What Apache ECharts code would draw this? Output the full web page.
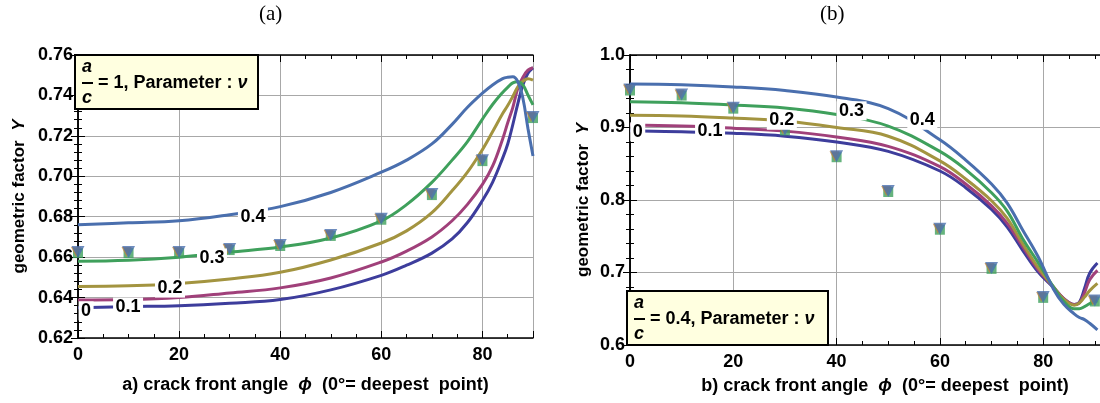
<!DOCTYPE html>
<html>
<head>
<meta charset="utf-8">
<script src="https://cdn.jsdelivr.net/npm/echarts@6/dist/echarts.min.js"></script>
<style>
  html, body { margin: 0; padding: 0; background: #fff; }
  #chart { width: 1100px; height: 403px; }
</style>
</head>
<body>
<div id="chart"></div>
<script>
// parameter nu for each curve
var nus = ['0', '0.1', '0.2', '0.3', '0.4'];

// (a) a/c = 1
var phiA = [0, 10, 20, 30, 40, 50, 60, 65, 70, 74, 77, 80, 82, 84, 85, 86, 87, 88, 89, 90];
var yA0 = [0.635, 0.6355, 0.636, 0.6372, 0.639, 0.6438, 0.651, 0.656, 0.662, 0.669, 0.677, 0.688, 0.697, 0.709, 0.716, 0.7255, 0.736, 0.7452, 0.751, 0.7537];
var yA1 = [0.6388, 0.639, 0.640, 0.6423, 0.6448, 0.6497, 0.6576, 0.663, 0.670, 0.678, 0.686, 0.696, 0.705, 0.7185, 0.7265, 0.734, 0.7435, 0.749, 0.7525, 0.7537];
var yA2 = [0.6455, 0.6458, 0.647, 0.6492, 0.6525, 0.6586, 0.667, 0.673, 0.682, 0.6928, 0.7019, 0.7132, 0.722, 0.731, 0.735, 0.7395, 0.7443, 0.747, 0.7483, 0.7476];
var yA3 = [0.658, 0.6585, 0.660, 0.6625, 0.665, 0.6695, 0.678, 0.686, 0.697, 0.708, 0.717, 0.7283, 0.7355, 0.7415, 0.744, 0.7462, 0.7468, 0.7452, 0.7402, 0.7353];
var yA4 = [0.676, 0.677, 0.678, 0.681, 0.685, 0.692, 0.702, 0.708, 0.716, 0.7257, 0.734, 0.7411, 0.7452, 0.7483, 0.749, 0.7492, 0.7468, 0.7386, 0.7237, 0.710];

// (b) a/c = 0.4
var phiB = [0, 10, 20, 30, 40, 50, 60, 65, 70, 73, 76, 79, 82, 84, 86, 87, 88, 89, 90.5];
var yB0 = [0.8956, 0.894, 0.892, 0.888, 0.880, 0.867, 0.840, 0.817, 0.787, 0.763, 0.731, 0.701, 0.679, 0.664, 0.656, 0.659, 0.678, 0.699, 0.713];
var yB1 = [0.9034, 0.902, 0.899, 0.895, 0.887, 0.874, 0.846, 0.822, 0.792, 0.768, 0.736, 0.704, 0.680, 0.664, 0.656, 0.658, 0.672, 0.690, 0.703];
var yB2 = [0.917, 0.916, 0.913, 0.909, 0.900, 0.888, 0.854, 0.829, 0.799, 0.775, 0.740, 0.707, 0.680, 0.663, 0.655, 0.658, 0.666, 0.675, 0.685];
var yB3 = [0.9356, 0.934, 0.931, 0.927, 0.918, 0.902, 0.867, 0.842, 0.810, 0.785, 0.747, 0.714, 0.680, 0.660, 0.650, 0.650, 0.653, 0.657, 0.661];
var yB4 = [0.960, 0.959, 0.956, 0.951, 0.942, 0.926, 0.883, 0.855, 0.822, 0.796, 0.759, 0.722, 0.677, 0.656, 0.643, 0.638, 0.635, 0.630, 0.621];

// FE results (markers)
var phiMarks = [0, 10, 20, 30, 40, 50, 60, 70, 80, 90];
var markA = [0.662, 0.662, 0.662, 0.6635, 0.6655, 0.6705, 0.6785, 0.6907, 0.7075, 0.7288];
var markB = [0.951, 0.944, 0.926, 0.896, 0.859, 0.811, 0.759, 0.705, 0.665, 0.660];

// where the nu labels sit on the curves
var labelPosA = [[1.6, 0.6334], [9.9, 0.6353], [18.2, 0.6447], [26.5, 0.6596], [34.6, 0.680]];
var labelPosB = [[1.5, 0.894], [15.5, 0.895], [29.4, 0.910], [42.9, 0.923], [56.6, 0.910]];

var colors = ['#3d3d9c', '#a0407a', '#a39440', '#3fa05c', '#4a6fae'];
var ff = 'Liberation Sans, Arial, sans-serif';

var myChart = echarts.init(document.getElementById('chart'));

function pairs(xs, ys) {
  return xs.map(function (x, i) { return [x, ys[i]]; });
}

function bottomAxis(gi, max, name, nameGap, namePad) {
  return {
    gridIndex: gi, type: 'value', position: 'bottom', min: 0, max: max, interval: 20,
    axisLine: { lineStyle: { color: '#000', width: 1.5 } },
    axisTick: { inside: true, length: 7, lineStyle: { color: '#000' } },
    minorTick: { show: true, splitNumber: 4, length: 4, lineStyle: { color: '#000' } },
    splitLine: { show: true, lineStyle: { color: '#a8a8a8', width: 1 } },
    axisLabel: { color: '#000', fontWeight: 'bold', fontSize: 18, fontFamily: ff, margin: 8, showMaxLabel: false },
    name: name, nameLocation: 'middle', nameGap: nameGap,
    nameTextStyle: {
      color: '#000', fontWeight: 'bold', fontSize: 18, fontFamily: ff, padding: namePad,
      rich: { i: { fontStyle: 'italic', fontWeight: 'bold', fontSize: 18, fontFamily: ff } }
    }
  };
}

function topAxis(gi, max) {
  return {
    gridIndex: gi, type: 'value', position: 'top', min: 0, max: max, interval: 20,
    axisLine: { lineStyle: { color: '#000', width: 1.5 } },
    axisTick: { inside: true, length: 7, lineStyle: { color: '#000' } },
    minorTick: { show: true, splitNumber: 4, length: 4, lineStyle: { color: '#000' } },
    splitLine: { show: false }, axisLabel: { show: false }
  };
}

function leftAxis(gi, min, max, step, digits, nameGap) {
  return {
    gridIndex: gi, type: 'value', position: 'left', min: min, max: max, interval: step,
    axisLine: { lineStyle: { color: '#000', width: 1.5 } },
    axisTick: { inside: true, length: 7, lineStyle: { color: '#000' } },
    minorTick: { show: true, splitNumber: 5, length: 4, lineStyle: { color: '#000' } },
    splitLine: { show: true, lineStyle: { color: '#a8a8a8', width: 1 } },
    axisLabel: {
      color: '#000', fontWeight: 'bold', fontSize: 18, fontFamily: ff, margin: 5,
      formatter: function (v) { return v.toFixed(digits); }
    },
    name: 'geometric factor  {i|Y}', nameLocation: 'middle', nameGap: nameGap,
    nameTextStyle: {
      color: '#000', fontWeight: 'bold', fontSize: 17, fontFamily: ff,
      rich: { i: { fontStyle: 'italic', fontWeight: 'bold', fontSize: 17, fontFamily: ff } }
    }
  };
}

function rightAxis(gi, min, max, step) {
  return {
    gridIndex: gi, type: 'value', position: 'right', min: min, max: max, interval: step,
    axisLine: { lineStyle: { color: '#000', width: 1.5 } },
    axisTick: { inside: true, length: 7, lineStyle: { color: '#000' } },
    minorTick: { show: true, splitNumber: 5, length: 4, lineStyle: { color: '#000' } },
    splitLine: { show: false }, axisLabel: { show: false }
  };
}

function curve(idx, xs, ys, nu, pos) {
  return {
    type: 'line', xAxisIndex: idx, yAxisIndex: idx,
    data: pairs(xs, ys), showSymbol: false, smooth: 0.4,
    lineStyle: { width: 3 }, color: colors[nus.indexOf(nu)], z: 2,
    markPoint: {
      silent: true, symbol: 'rect', symbolSize: [nu.length > 1 ? 30 : 15, 19],
      itemStyle: { color: '#fff' },
      label: { show: true, position: 'inside', formatter: nu, color: '#000', fontWeight: 'bold', fontSize: 18, fontFamily: ff },
      data: [{ coord: pos }]
    }
  };
}

function marks(idx, ys) {
  return [
    { type: 'scatter', xAxisIndex: idx, yAxisIndex: idx, data: pairs(phiMarks, ys), symbol: 'rect', symbolSize: 10, itemStyle: { color: '#3fa05c' }, z: 3, silent: true },
    { type: 'scatter', xAxisIndex: idx, yAxisIndex: idx, data: pairs(phiMarks, ys), symbol: 'triangle', symbolRotate: 180, symbolSize: [10, 10], symbolOffset: [-2, -1], itemStyle: { color: '#c0843a' }, z: 3, silent: true },
    { type: 'scatter', xAxisIndex: idx, yAxisIndex: idx, data: pairs(phiMarks, ys), symbol: 'triangle', symbolRotate: 180, symbolSize: [13, 12], symbolOffset: [0, -1], itemStyle: { color: '#4a6fae' }, z: 3, silent: true }
  ];
}

var seriesA = [yA0, yA1, yA2, yA3, yA4].map(function (ys, i) { return curve(0, phiA, ys, nus[i], labelPosA[i]); });
var seriesB = [yB0, yB1, yB2, yB3, yB4].map(function (ys, i) { return curve(1, phiB, ys, nus[i], labelPosB[i]); });

function legendBox(x, y, w, ratio) {
  var fx = x + 12, mid = y + 28;
  return [
    { type: 'rect', z: 20, shape: { x: x, y: y, width: w, height: 54 }, style: { fill: '#ffffe0', stroke: '#000', lineWidth: 2 } },
    { type: 'text', z: 21, x: fx, y: y + 12, style: { text: 'a', fontStyle: 'italic', fontWeight: 'bold', fontSize: 18, fontFamily: ff, fill: '#000', align: 'center', verticalAlign: 'middle' } },
    { type: 'line', z: 21, shape: { x1: fx - 5, y1: mid, x2: fx + 6, y2: mid }, style: { stroke: '#000', lineWidth: 2 } },
    { type: 'text', z: 21, x: fx, y: y + 43, style: { text: 'c', fontStyle: 'italic', fontWeight: 'bold', fontSize: 18, fontFamily: ff, fill: '#000', align: 'center', verticalAlign: 'middle' } },
    { type: 'text', z: 21, x: fx + 11, y: mid, style: {
      text: '= ' + ratio + ', Parameter : {i|ν}', fontWeight: 'bold', fontSize: 18, fontFamily: ff, fill: '#000', verticalAlign: 'middle',
      rich: { i: { fontStyle: 'italic', fontWeight: 'bold', fontSize: 18, fontFamily: ff } }
    } }
  ];
}

myChart.setOption({
  animation: false,
  grid: [
    { left: 78, top: 55, width: 455, height: 283 },
    { left: 630, top: 55, width: 471, height: 290 }
  ],
  xAxis: [
    bottomAxis(0, 90, 'a) crack front angle  {i|ϕ}  (0°= deepest  point)', 38, [0, 0, 0, 0]),
    bottomAxis(1, 91, 'b) crack front angle  {i|ϕ}  (0°= deepest  point)', 32, [0, 0, 0, 40]),
    topAxis(0, 90),
    topAxis(1, 91)
  ],
  yAxis: [
    leftAxis(0, 0.62, 0.76, 0.02, 2, 50),
    leftAxis(1, 0.6, 1.0, 0.1, 1, 38),
    rightAxis(0, 0.62, 0.76, 0.02),
    rightAxis(1, 0.6, 1.0, 0.1)
  ],
  graphic: [
    { type: 'text', left: 259, top: 4, style: { text: '(a)', fontSize: 21, fontFamily: 'Liberation Serif, Times New Roman, serif', fill: '#000' } },
    { type: 'text', left: 820, top: 4, style: { text: '(b)', fontSize: 21, fontFamily: 'Liberation Serif, Times New Roman, serif', fill: '#000' } }
  ].concat(legendBox(75, 55, 183, '1'), legendBox(627, 291, 201, '0.4')),
  series: seriesA.concat(seriesB, marks(0, markA), marks(1, markB))
});
</script>
</body>
</html>
